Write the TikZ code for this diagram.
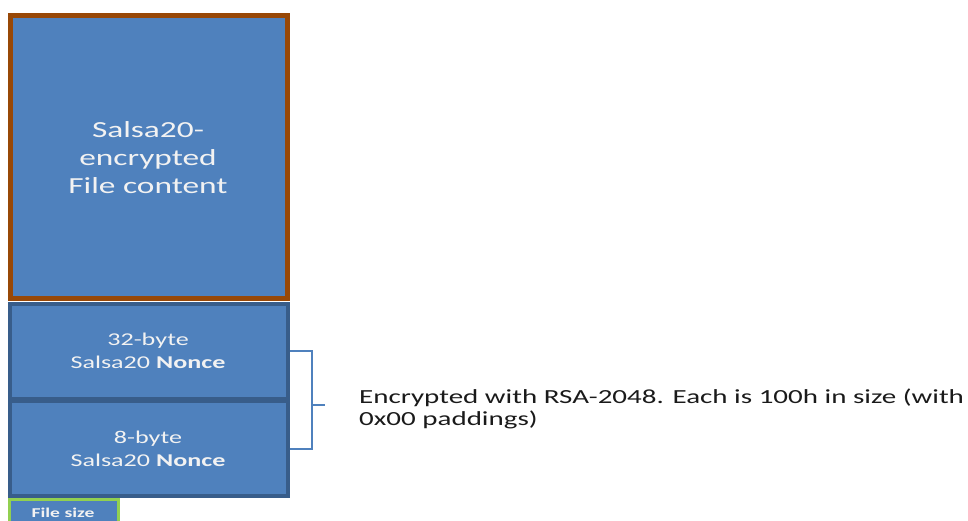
\documentclass[tikz,border=0pt]{standalone}
\usepackage{fontspec}
\setmainfont[FakeStretch=1.45]{Carlito}
\definecolor{boxfill}{HTML}{4F81BD}
\definecolor{brownline}{HTML}{984807}
\definecolor{darkline}{HTML}{385D8A}
\definecolor{greenline}{HTML}{92D050}
\definecolor{txtwhite}{HTML}{F2F2F2}
\definecolor{txtdark}{HTML}{1A1A1A}
\begin{document}
\begin{tikzpicture}[x=1pt,y=-1pt,
  blockbox/.style={fill=boxfill},
  boxtext/.style={text=txtwhite, align=center, inner sep=0pt},
  bracketline/.style={draw=boxfill, line width=1.6pt}]
\useasboundingbox (0,0) rectangle (968,521);
\begin{scope}
\clip (0,0) rectangle (968,521);
% main content box
\draw[blockbox, draw=brownline, line width=5pt] (10.5,16) rectangle (287.5,298) ;
\node[boxtext, font=\fontsize{23}{28}\selectfont] (content) at (148,158) {Salsa20-\\encrypted\\File content};
% nonce boxes
\draw[blockbox, draw=darkline, line width=4pt] (10,304) rectangle (288,399);
\node[boxtext, font=\fontsize{18}{22.5}\selectfont] (n32) at (148,351) {32-byte\\Salsa20 \textbf{Nonce}};
\draw[blockbox, draw=darkline, line width=4pt] (10,401) rectangle (288,495.5);
\node[boxtext, font=\fontsize{18}{22.5}\selectfont] (n8) at (148,449) {8-byte\\Salsa20 \textbf{Nonce}};
% file size
\draw[blockbox, draw=greenline, line width=3pt] (9.5,499.5) rectangle (118.5,540);
\node[boxtext, font=\fontsize{13.5}{15}\selectfont\bfseries] (fs) at (63,513) {File size};
\end{scope}
% bracket
\coordinate (b1) at (290,351);
\coordinate (b2) at (290,449);
\coordinate (bm) at (312,405);
\coordinate (bt) at (325,405);
\draw[bracketline] (b1) -- (312,351) -- (312,449) -- (b2);
\draw[bracketline] (bm) -- (bt);
\node[anchor=west, text=txtdark, align=left, inner sep=0pt, font=\fontsize{20}{22}\selectfont] (lbl) at (359,409) {Encrypted with RSA-2048. Each is 100h in size (with\\0x00 paddings)};
\end{tikzpicture}
\end{document}
